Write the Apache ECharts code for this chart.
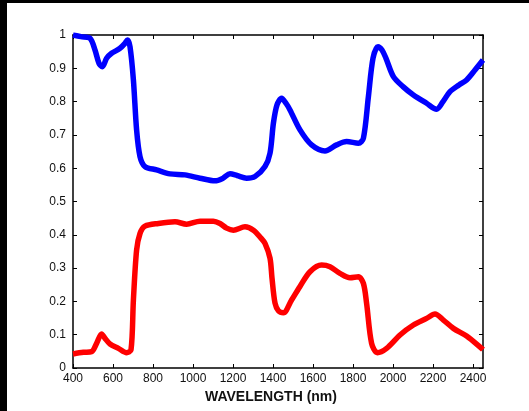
<!DOCTYPE html>
<html>
<head>
<meta charset="utf-8">
<script src="https://cdn.jsdelivr.net/npm/echarts@6/dist/echarts.min.js"></script>
<style>
  html, body { margin: 0; padding: 0; background: #fff; }
  #chart { width: 529px; height: 411px; }
</style>
</head>
<body>
<div id="chart"></div>
<script>
// blue spectrum (wavelength nm / reflectance)
var blueNm = [400, 440, 485, 510, 530, 547, 568, 593, 635, 660, 672, 685, 702, 718, 735, 760, 818, 885, 960, 1035,
  1110, 1150, 1185, 1220, 1268, 1310, 1360, 1385, 1402, 1420, 1443, 1465, 1485, 1535, 1593, 1660, 1718, 1768, 1827, 1852,
  1877, 1900, 1925, 1945, 1965, 2002, 2050, 2102, 2168, 2218, 2250, 2285, 2330, 2368, 2410, 2450]
var blueVal = [1.0, 0.995, 0.99, 0.955, 0.915, 0.905, 0.93, 0.945, 0.96, 0.975, 0.985, 0.965, 0.865, 0.715, 0.635, 0.605, 0.595, 0.583, 0.58, 0.57,
  0.562, 0.57, 0.583, 0.578, 0.57, 0.575, 0.605, 0.645, 0.735, 0.79, 0.81, 0.795, 0.775, 0.715, 0.67, 0.652, 0.67, 0.68, 0.675, 0.69,
  0.815, 0.93, 0.965, 0.955, 0.93, 0.875, 0.845, 0.82, 0.795, 0.777, 0.8, 0.83, 0.85, 0.865, 0.895, 0.925]

// red spectrum
var redNm = [400, 452, 493, 518, 543, 560, 585, 627, 668, 690, 702, 718, 735, 760, 827, 910, 968, 1035, 1102, 1135,
  1168, 1202, 1260, 1302, 1340, 1360, 1385, 1395, 1410, 1427, 1452, 1493, 1535, 1585, 1643, 1685, 1735, 1785, 1827, 1852, 1868,
  1893, 1922, 1968, 2035, 2102, 2168, 2210, 2252, 2302, 2368, 2443, 2450]
var redVal = [0.042, 0.047, 0.049, 0.074, 0.102, 0.089, 0.072, 0.059, 0.046, 0.054, 0.204, 0.354, 0.404, 0.426, 0.434, 0.439, 0.432, 0.441, 0.441, 0.434,
  0.42, 0.414, 0.424, 0.414, 0.39, 0.374, 0.33, 0.27, 0.195, 0.172, 0.166, 0.204, 0.245, 0.289, 0.309, 0.304, 0.284, 0.271, 0.274, 0.254, 0.194,
  0.074, 0.046, 0.059, 0.099, 0.129, 0.149, 0.162, 0.144, 0.119, 0.096, 0.059, 0.055]

var xMin = 400, xMax = 2450, xStep = 200
var yMin = 0, yMax = 1, yStep = 0.1
var xTitle = 'WAVELENGTH (nm)'

function pairs(xs, ys) {
  return xs.map(function (x, i) { return [x, ys[i]] })
}

var chart = echarts.init(document.getElementById('chart'))

var axisCommon = {
  axisLine: { show: true, onZero: false, lineStyle: { color: '#000', width: 1.5 } },
  axisTick: { show: true, inside: true, length: 4, lineStyle: { color: '#000', width: 1 } },
  splitLine: { show: false }
}

var option = {
  backgroundColor: '#fff',
  animation: false,
  grid: { left: 73, top: 35, right: 46, bottom: 43 },
  graphic: [
    { type: 'rect', left: 0, top: 0, shape: { width: 7, height: 411 }, style: { fill: '#000' }, z: 100 },
    { type: 'rect', left: 0, top: 0, shape: { width: 529, height: 3 }, style: { fill: '#000' }, z: 100 },
    {
      type: 'text', left: 205, top: 390, z: 100,
      style: { text: xTitle, fill: '#111', font: 'bold 14px "Liberation Sans", Arial, sans-serif' }
    }
  ],
  xAxis: [
    Object.assign({}, axisCommon, {
      type: 'value', position: 'bottom', min: xMin, max: xMax, interval: xStep,
      axisLabel: {
        color: '#111', fontSize: 12, fontFamily: 'Liberation Sans', margin: 5,
        showMaxLabel: false,
        formatter: function (v) { return String(v) }
      }
    }),
    Object.assign({}, axisCommon, {
      type: 'value', position: 'top', min: xMin, max: xMax, interval: xStep,
      axisLabel: { show: false }
    })
  ],
  yAxis: [
    Object.assign({}, axisCommon, {
      type: 'value', position: 'left', min: yMin, max: yMax, interval: yStep,
      axisLabel: { color: '#111', fontSize: 12, fontFamily: 'Liberation Sans', margin: 7 }
    }),
    Object.assign({}, axisCommon, {
      type: 'value', position: 'right', min: yMin, max: yMax, interval: yStep,
      axisLabel: { show: false }
    })
  ],
  series: [
    {
      type: 'line',
      data: pairs(blueNm, blueVal),
      showSymbol: false,
      smooth: 0.3,
      lineStyle: { color: '#0000ff', width: 5.5 }
    },
    {
      type: 'line',
      data: pairs(redNm, redVal),
      showSymbol: false,
      smooth: 0.3,
      lineStyle: { color: '#ff0000', width: 5.5 }
    }
  ]
}

chart.setOption(option)
</script>
</body>
</html>
